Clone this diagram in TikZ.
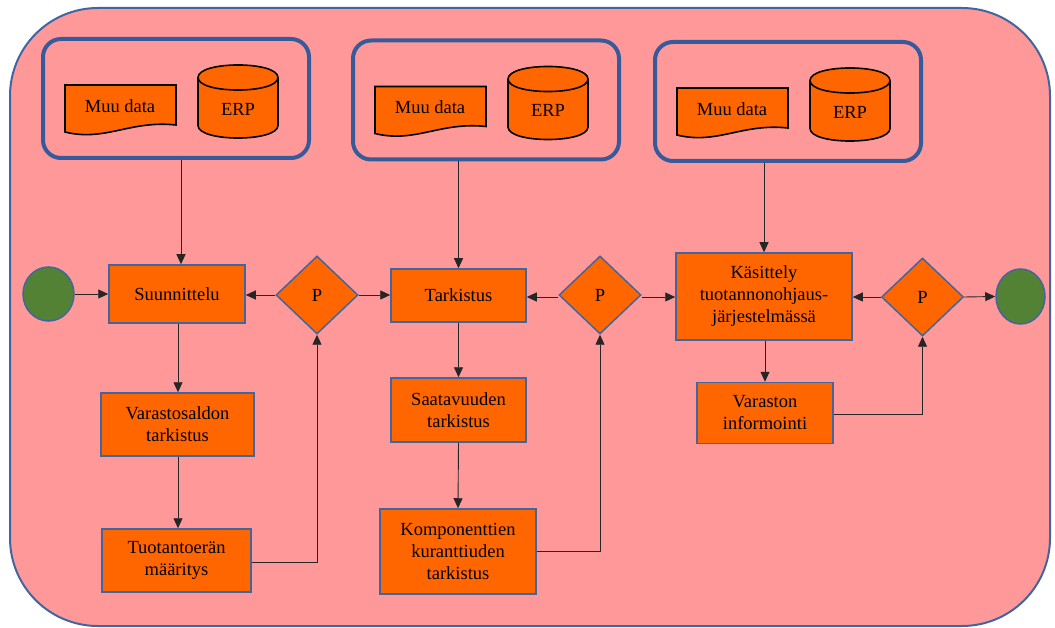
\documentclass[tikz,border=0pt]{standalone}
\usepackage{fontspec}
\setmainfont{Liberation Serif}
\usetikzlibrary{shapes.geometric,arrows.meta,calc}
\definecolor{pinkbg}{HTML}{FF9999}
\definecolor{orng}{HTML}{FF6600}
\definecolor{grn}{HTML}{548235}
\definecolor{bdr}{HTML}{41669F}
\definecolor{grpb}{HTML}{365A9A}
\tikzset{
  txt/.style={font=\fontsize{18.5}{22}\selectfont, align=center, text=black},
  procbox/.style={txt, draw=bdr, line width=1.5pt, fill=orng, inner sep=0pt},
  decis/.style={txt, diamond, draw=bdr, line width=1.5pt, fill=orng, inner sep=0pt, minimum width=82pt, minimum height=78pt},
  term/.style={ellipse, draw=bdr, line width=1.5pt, fill=grn, inner sep=0pt},
  grp/.style={draw=grpb, line width=4pt, rounded corners=18pt, inner sep=0pt, minimum width=266pt, minimum height=119pt},
  shp/.style={draw=black, line width=1.6pt, fill=orng},
  conn/.style={draw=black!85, line width=0.9pt, -{Triangle[length=10pt,width=9pt]}},
}
\begin{document}
\begin{tikzpicture}[x=1pt,y=-1pt]
\useasboundingbox (0,0) rectangle (1055,628);
% outer frame
\draw[fill=pinkbg, draw=bdr, line width=2pt, rounded corners=88pt] (10,8) rectangle (1050,626);

% data source groups
\foreach \i/\dx/\dy in {1/0/0, 2/310/1.5, 3/612/3}{
  \begin{scope}[shift={(\dx,\dy)}]
    \node[grp] (g\i) at (176,98.5) {};
    % document shape
    \filldraw[shp] (65,85) -- (176,85) -- (176,125)
      .. controls (130,120) and (105,142) .. (65,132) -- cycle;
    \node[txt] (doc\i) at (120,106) {Muu data};
    % cylinder
    \filldraw[shp] (198,77.5) -- (198,125.5)
      .. controls (198,142.2) and (278,142.2) .. (278,125.5)
      -- (278,77.5)
      .. controls (278,60.8) and (198,60.8) .. (198,77.5) -- cycle;
    \draw[black, line width=1.6pt] (198,77.5) .. controls (198,94.2) and (278,94.2) .. (278,77.5);
    \node[txt] (erp\i) at (238,109) {ERP};
  \end{scope}
}

% main row
\node[term, minimum width=51pt, minimum height=54pt] (start) at (48.5,294) {};
\node[procbox, minimum width=136pt, minimum height=58pt] (sun) at (177,294) {Suunnittelu};
\node[decis] (d1) at (317,295) {P};
\node[procbox, minimum width=135pt, minimum height=53pt] (tar) at (458.5,295.5) {Tarkistus};
\node[decis] (d2) at (600,295) {P};
\node[procbox, minimum width=176pt, minimum height=87pt] (kas) at (764,296.5) {Käsittely\\tuotannonohjaus-\\järjestelmässä};
\node[decis] (d3) at (922.5,297) {P};
\node[term, minimum width=49pt, minimum height=55pt] (end) at (1020.5,296.5) {};

% lower boxes
\node[procbox, minimum width=153pt, minimum height=63pt] (var1) at (177.5,424.5) {Varastosaldon\\tarkistus};
\node[procbox, minimum width=149pt, minimum height=63pt] (tuo) at (176.5,560.5) {Tuotantoerän\\määritys};
\node[procbox, minimum width=135pt, minimum height=64pt] (saa) at (458.5,410) {Saatavuuden\\tarkistus};
\node[procbox, minimum width=156pt, minimum height=85pt] (kom) at (458,551.5) {Komponenttien\\kuranttiuden\\tarkistus};
\node[procbox, minimum width=136pt, minimum height=61pt] (vari) at (765,413) {Varaston\\informointi};

% connectors from groups
\draw[conn] (g1.south -| 181,0) -- (sun.north -| 181,0);
\draw[conn] (g2.south -| tar.north) -- (tar.north);
\draw[conn] (g3.south -| kas.north) -- (kas.north);

% horizontal flow
\draw[conn] (start) -- (sun);
\draw[conn] (d1.west) -- (d1.west -| sun.east);
\draw[conn] (d1.east) -- (d1.east -| tar.west);
\draw[conn] (d2.west |- 0,297) -- (tar.east |- 0,297);
\draw[conn] (d2.east |- 0,297) -- (kas.west |- 0,297);
\draw[conn] (d3.west) -- (d3.west -| kas.east);
\draw[conn] (d3.east) -- (end.west);

% vertical flows
\draw[conn] (sun.south -| 178,0) -- (var1.north -| 178,0);
\draw[conn] (var1.south -| 178,0) -- (tuo.north -| 178,0);
\draw[conn] (tar.south) -- (saa.north);
\draw[conn] (saa.south) -- (kom.north);
\draw[conn] (kas.south -| vari.north) -- (vari.north);

% feedback
\draw[conn] (tuo.east |- 0,562) -| (d1.south);
\draw[conn] (kom.east) -| (d2.south);
\draw[conn] (vari.east |- 0,414) -| (d3.south);
\end{tikzpicture}
\end{document}
